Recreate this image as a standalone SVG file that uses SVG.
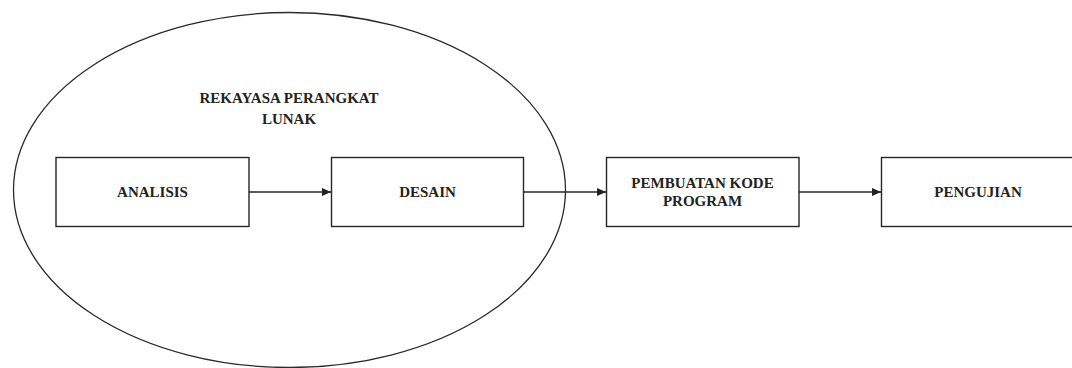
<svg xmlns="http://www.w3.org/2000/svg" width="1072" height="368" viewBox="0 0 1072 368">
<style>
.box{fill:#fff;stroke:#262626;stroke-width:1.4}
.lbl{font-family:'Liberation Serif','Times New Roman','DejaVu Serif',serif;font-weight:700;font-size:15px;fill:#222;text-anchor:middle}
.con{stroke:#262626;stroke-width:1.4;fill:none}
</style>
<defs>
<marker id="ah" markerWidth="9" markerHeight="8" refX="9" refY="4" orient="auto" markerUnits="userSpaceOnUse">
<path d="M0,0 L9,4 L0,8 Z" fill="#222"/>
</marker>
</defs>
<rect width="1072" height="368" fill="#fff"/>
<g id="group-rpl">
<ellipse cx="289.5" cy="190" rx="276" ry="177.5" fill="none" stroke="#2a2a2a" stroke-width="1.3"/>
<text class="lbl" x="289" y="103" font-family="Liberation Serif, serif">REKAYASA PERANGKAT</text>
<text class="lbl" x="289" y="124" font-family="Liberation Serif, serif">LUNAK</text>
</g>
<g id="node-analisis">
<rect class="box" x="56" y="157.5" width="193" height="69"/>
<text class="lbl" x="152.5" y="197">ANALISIS</text>
</g>
<g id="node-desain">
<rect class="box" x="331.5" y="157.5" width="192" height="69"/>
<text class="lbl" x="427.5" y="197">DESAIN</text>
</g>
<g id="node-pembuatan">
<rect class="box" x="606.5" y="157.5" width="192.5" height="69"/>
<text class="lbl" x="702.5" y="187.5">PEMBUATAN KODE</text>
<text class="lbl" x="702.5" y="206">PROGRAM</text>
</g>
<g id="node-pengujian">
<rect class="box" x="881.5" y="157.5" width="193" height="69"/>
<text class="lbl" x="978" y="197">PENGUJIAN</text>
</g>
<g id="connectors">
<line class="con" x1="249" y1="192" x2="331" y2="192" marker-end="url(#ah)"/>
<line class="con" x1="523.5" y1="192" x2="606" y2="192" marker-end="url(#ah)"/>
<line class="con" x1="799" y1="192" x2="881" y2="192" marker-end="url(#ah)"/>
</g>
</svg>
